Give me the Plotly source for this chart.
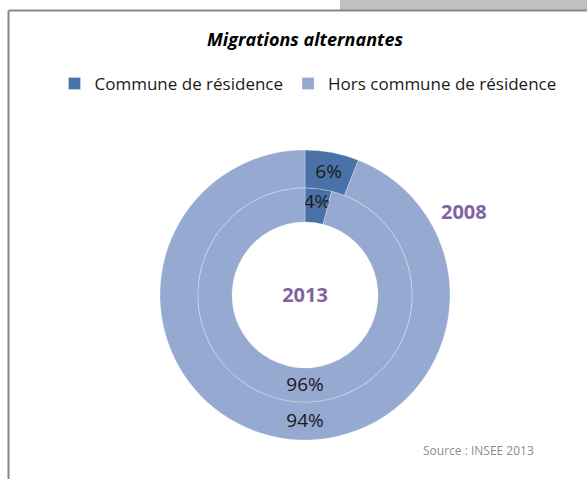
import plotly.graph_objects as go

labels = ["Commune de résidence", "Hors commune de résidence"]
values_2008 = [6, 94]
values_2013 = [4, 96]
colors = ["#4A72A8", "#95A9D1"]

W, H = 587, 479
cx, cy = 305, 295
r_out, r_mid, r_in = 145, 107, 73

def dom(r):
    return dict(x=[(cx - r) / W, (cx + r) / W],
                y=[(H - cy - r) / H, (H - cy + r) / H])

common = dict(
    sort=False, direction="clockwise", rotation=0,
    marker=dict(colors=colors, line=dict(color="rgba(255,255,255,0.35)", width=0.8)),
    textinfo="percent", textposition="inside", insidetextorientation="horizontal",
    textfont=dict(size=19, color="#1a1a1a", family="Open Sans"),
    hoverinfo="label+percent",
)

fig = go.Figure()
fig.add_trace(go.Pie(
    labels=labels, values=values_2008, name="2008",
    domain=dom(r_out), hole=r_mid / r_out, showlegend=True, **common,
))
fig.add_trace(go.Pie(
    labels=labels, values=values_2013, name="2013",
    domain=dom(r_mid), hole=r_in / r_mid, showlegend=False,
    title=dict(text="<b>2013</b>", position="middle center",
               font=dict(size=20, color="#8064A2", family="Open Sans")),
    **common,
))

fig.update_layout(
    width=W, height=H,
    margin=dict(l=0, r=0, t=0, b=0),
    paper_bgcolor="white",
    uniformtext=dict(minsize=19, mode="show"),
    font=dict(family="Open Sans", color="#1a1a1a"),
    title=dict(text="<b><i>Migrations alternantes</i></b>", x=305 / W, xanchor="center",
               y=1 - 40 / H, yanchor="middle",
               font=dict(size=18, color="#000000", family="Open Sans")),
    legend=dict(orientation="h", x=308 / W, xanchor="center", y=1 - 84 / H, yanchor="middle",
                font=dict(size=17, color="#1a1a1a", family="Open Sans"),
                itemwidth=30, traceorder="normal"),
    annotations=[
        dict(text="<b>2008</b>", x=464 / W, y=1 - 211 / H, xref="paper", yref="paper",
             xanchor="center", yanchor="middle",
             showarrow=False, font=dict(size=20, color="#8064A2", family="Open Sans")),
        dict(text="Source : INSEE 2013", x=478 / W, y=1 - 450 / H, xref="paper", yref="paper",
             xanchor="center", yanchor="middle",
             showarrow=False, font=dict(size=12, color="#8c8c8c", family="Open Sans")),
    ],
    shapes=[
        dict(type="rect", xref="paper", yref="paper", x0=340 / W, x1=1, y0=1 - 10 / H, y1=1,
             fillcolor="#C0C0C0", line=dict(width=0), layer="below"),
        dict(type="line", xref="paper", yref="paper", x0=8.5 / W, x1=1, y0=1 - 10.5 / H, y1=1 - 10.5 / H,
             line=dict(color="#878787", width=2)),
        dict(type="line", xref="paper", yref="paper", x0=8.5 / W, x1=8.5 / W, y0=0, y1=1 - 10.5 / H,
             line=dict(color="#878787", width=2)),
    ],
)

fig.write_html("out.html")
